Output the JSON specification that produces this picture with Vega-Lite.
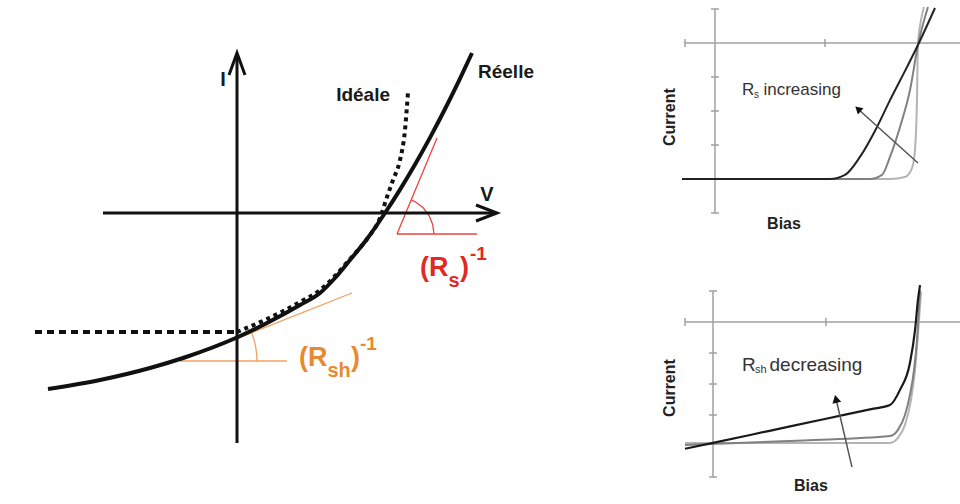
{
  "$schema": "https://vega.github.io/schema/vega-lite/v6.json",
  "padding": 0,
  "background": "white",
  "config": {"view": {"stroke": null}, "text": {"font": "Liberation Sans"}},
  "spacing": 20,
  "hconcat": [
    {
      "width": 640,
      "height": 504,
      "encoding": {
        "x": {"field": "V", "type": "quantitative", "scale": {"domain": [-2.37, 4.03], "nice": false, "zero": false}, "axis": null},
        "y": {"field": "I", "type": "quantitative", "scale": {"domain": [-2.91, 2.13], "nice": false, "zero": false}, "axis": null}
      },
      "layer": [
        {
          "data": {"values": [
            {"s": "oh", "o": 1, "V": -0.57, "I": -1.48}, {"s": "oh", "o": 2, "V": 0.5, "I": -1.48},
            {"s": "os", "o": 1, "V": -0.57, "I": -1.48}, {"s": "os", "o": 2, "V": 1.15, "I": -0.8},
            {"s": "oa", "o": 1, "V": 0.2, "I": -1.48}, {"s": "oa", "o": 2, "V": 0.197, "I": -1.413}, {"s": "oa", "o": 3, "V": 0.188, "I": -1.346}, {"s": "oa", "o": 4, "V": 0.174, "I": -1.281}, {"s": "oa", "o": 5, "V": 0.146, "I": -1.197}
          ]},
          "mark": {"type": "line", "color": "#f0a062", "strokeWidth": 1.3},
          "encoding": {"detail": {"field": "s"}, "order": {"field": "o"}}
        },
        {
          "data": {"values": [
            {"s": "rh", "o": 1, "V": 1.6, "I": -0.21}, {"s": "rh", "o": 2, "V": 2.4, "I": -0.21},
            {"s": "rs", "o": 1, "V": 1.6, "I": -0.21}, {"s": "rs", "o": 2, "V": 2.0, "I": 0.75},
            {"s": "ra", "o": 1, "V": 1.97, "I": -0.21}, {"s": "ra", "o": 2, "V": 1.957, "I": -0.114}, {"s": "ra", "o": 3, "V": 1.92, "I": -0.025}, {"s": "ra", "o": 4, "V": 1.862, "I": 0.052}, {"s": "ra", "o": 5, "V": 1.785, "I": 0.11}, {"s": "ra", "o": 6, "V": 1.742, "I": 0.132}
          ]},
          "mark": {"type": "line", "color": "#e8453c", "strokeWidth": 1.3},
          "encoding": {"detail": {"field": "s"}, "order": {"field": "o"}}
        },
        {
          "data": {"values": [
            {"s": "ih", "o": 1, "V": -2.02, "I": -1.19}, {"s": "ih", "o": 2, "V": 0.0, "I": -1.19}
          ]},
          "mark": {"type": "line", "color": "#111111", "strokeWidth": 4, "strokeDash": [7, 5]},
          "encoding": {"detail": {"field": "s"}, "order": {"field": "o"}}
        },
        {
          "data": {"values": [
            {"s": "ic", "o": 1, "V": 0.0, "I": -1.19}, {"s": "ic", "o": 2, "V": 0.3, "I": -1.06}, {"s": "ic", "o": 3, "V": 0.63, "I": -0.89}, {"s": "ic", "o": 4, "V": 0.83, "I": -0.77}, {"s": "ic", "o": 5, "V": 0.98, "I": -0.63}, {"s": "ic", "o": 6, "V": 1.13, "I": -0.46}, {"s": "ic", "o": 7, "V": 1.3, "I": -0.26}, {"s": "ic", "o": 8, "V": 1.43, "I": -0.05}, {"s": "ic", "o": 9, "V": 1.5, "I": 0.16}, {"s": "ic", "o": 10, "V": 1.56, "I": 0.33}, {"s": "ic", "o": 11, "V": 1.63, "I": 0.53}, {"s": "ic", "o": 12, "V": 1.68, "I": 0.83}, {"s": "ic", "o": 13, "V": 1.71, "I": 1.21}
          ]},
          "mark": {"type": "line", "color": "#111111", "strokeWidth": 4, "strokeDash": [4, 4], "interpolate": "monotone"},
          "encoding": {"detail": {"field": "s"}, "order": {"field": "o"}}
        },
        {
          "data": {"values": [
            {"s": "v", "o": 1, "V": 0, "I": -2.3}, {"s": "v", "o": 2, "V": 0, "I": 1.58},
            {"s": "h", "o": 1, "V": -1.34, "I": 0}, {"s": "h", "o": 2, "V": 2.58, "I": 0},
            {"s": "va", "o": 1, "V": -0.08, "I": 1.38}, {"s": "va", "o": 2, "V": 0, "I": 1.6}, {"s": "va", "o": 3, "V": 0.08, "I": 1.38},
            {"s": "ha", "o": 1, "V": 2.39, "I": 0.08}, {"s": "ha", "o": 2, "V": 2.6, "I": 0}, {"s": "ha", "o": 3, "V": 2.39, "I": -0.08}
          ]},
          "mark": {"type": "line", "color": "#111111", "strokeWidth": 3},
          "encoding": {"detail": {"field": "s"}, "order": {"field": "o"}}
        },
        {
          "data": {"values": [
            {"s": "r", "o": 1, "V": -1.89, "I": -1.76}, {"s": "r", "o": 2, "V": -1.37, "I": -1.67}, {"s": "r", "o": 3, "V": -0.87, "I": -1.55}, {"s": "r", "o": 4, "V": -0.54, "I": -1.45}, {"s": "r", "o": 5, "V": 0.01, "I": -1.24}, {"s": "r", "o": 6, "V": 0.3, "I": -1.1}, {"s": "r", "o": 7, "V": 0.63, "I": -0.92}, {"s": "r", "o": 8, "V": 0.83, "I": -0.8}, {"s": "r", "o": 9, "V": 0.98, "I": -0.65}, {"s": "r", "o": 10, "V": 1.13, "I": -0.47}, {"s": "r", "o": 11, "V": 1.3, "I": -0.26}, {"s": "r", "o": 12, "V": 1.48, "I": 0.0}, {"s": "r", "o": 13, "V": 1.63, "I": 0.234}, {"s": "r", "o": 14, "V": 1.78, "I": 0.485}, {"s": "r", "o": 15, "V": 1.93, "I": 0.754}, {"s": "r", "o": 16, "V": 2.08, "I": 1.04}, {"s": "r", "o": 17, "V": 2.23, "I": 1.344}, {"s": "r", "o": 18, "V": 2.35, "I": 1.6}
          ]},
          "mark": {"type": "line", "color": "#111111", "strokeWidth": 4, "interpolate": "monotone"},
          "encoding": {"detail": {"field": "s"}, "order": {"field": "o"}}
        },
        {
          "data": {"values": [
            {"t": "I", "V": -0.14, "I": 1.33},
            {"t": "V", "V": 2.5, "I": 0.18}
          ]},
          "mark": {"type": "text", "fontSize": 20, "fontWeight": "bold", "color": "#1a1a1a", "align": "center", "baseline": "middle"},
          "encoding": {"text": {"field": "t"}}
        },
        {
          "data": {"values": [{"t": "Idéale", "V": 1.53, "I": 1.18}]},
          "mark": {"type": "text", "fontSize": 19, "fontWeight": "bold", "color": "#1a1a1a", "align": "right", "baseline": "middle"},
          "encoding": {"text": {"field": "t"}}
        },
        {
          "data": {"values": [{"t": "Réelle", "V": 2.41, "I": 1.41}]},
          "mark": {"type": "text", "fontSize": 19, "fontWeight": "bold", "color": "#1a1a1a", "align": "left", "baseline": "middle"},
          "encoding": {"text": {"field": "t"}}
        },
        {
          "data": {"values": [{"t": "(R", "V": 1.83, "I": -0.63}, {"t": ")", "V": 2.23, "I": -0.63}]},
          "mark": {"type": "text", "fontSize": 27, "fontWeight": "bold", "color": "#e02a24", "align": "left", "baseline": "alphabetic"},
          "encoding": {"text": {"field": "t"}}
        },
        {
          "data": {"values": [{"t": "s", "V": 2.115, "I": -0.74}]},
          "mark": {"type": "text", "fontSize": 20, "fontWeight": "bold", "color": "#e02a24", "align": "left", "baseline": "alphabetic"},
          "encoding": {"text": {"field": "t"}}
        },
        {
          "data": {"values": [{"t": "-1", "V": 2.33, "I": -0.47}]},
          "mark": {"type": "text", "fontSize": 19, "fontWeight": "bold", "color": "#e02a24", "align": "left", "baseline": "alphabetic"},
          "encoding": {"text": {"field": "t"}}
        },
        {
          "data": {"values": [{"t": "(R", "V": 0.62, "I": -1.53}, {"t": ")", "V": 1.14, "I": -1.53}]},
          "mark": {"type": "text", "fontSize": 27, "fontWeight": "bold", "color": "#e8892f", "align": "left", "baseline": "alphabetic"},
          "encoding": {"text": {"field": "t"}}
        },
        {
          "data": {"values": [{"t": "sh", "V": 0.905, "I": -1.64}]},
          "mark": {"type": "text", "fontSize": 20, "fontWeight": "bold", "color": "#e8892f", "align": "left", "baseline": "alphabetic"},
          "encoding": {"text": {"field": "t"}}
        },
        {
          "data": {"values": [{"t": "-1", "V": 1.23, "I": -1.37}]},
          "mark": {"type": "text", "fontSize": 19, "fontWeight": "bold", "color": "#e8892f", "align": "left", "baseline": "alphabetic"},
          "encoding": {"text": {"field": "t"}}
        }
      ]
    },
    {
      "spacing": 20,
      "vconcat": [
        {
          "width": 300,
          "height": 245,
          "encoding": {
            "x": {"field": "bias", "type": "quantitative", "scale": {"domain": [-0.5, 2.2273], "nice": false, "zero": false}, "axis": null},
            "y": {"field": "current", "type": "quantitative", "scale": {"domain": [-5.9412, 1.2647], "nice": false, "zero": false}, "axis": null}
          },
          "layer": [
            {
              "data": {"values": [
                {"s": "v", "o": 1, "bias": 0, "current": 1.0}, {"s": "v", "o": 2, "bias": 0, "current": -5.0},
                {"s": "h", "o": 1, "bias": -0.273, "current": 0}, {"s": "h", "o": 2, "bias": 2.2273, "current": 0},
                {"s": "t1", "o": 1, "bias": -0.036, "current": 1}, {"s": "t1", "o": 2, "bias": 0.036, "current": 1},
                {"s": "t2", "o": 1, "bias": -0.036, "current": -1}, {"s": "t2", "o": 2, "bias": 0.036, "current": -1},
                {"s": "t3", "o": 1, "bias": -0.036, "current": -2}, {"s": "t3", "o": 2, "bias": 0.036, "current": -2},
                {"s": "t4", "o": 1, "bias": -0.036, "current": -3}, {"s": "t4", "o": 2, "bias": 0.036, "current": -3},
                {"s": "t5", "o": 1, "bias": -0.036, "current": -5}, {"s": "t5", "o": 2, "bias": 0.036, "current": -5},
                {"s": "t6", "o": 1, "bias": -0.273, "current": 0.12}, {"s": "t6", "o": 2, "bias": -0.273, "current": -0.12},
                {"s": "t7", "o": 1, "bias": 1.0, "current": 0.12}, {"s": "t7", "o": 2, "bias": 1.0, "current": -0.12}
              ]},
              "mark": {"type": "line", "color": "#a0a0a0", "strokeWidth": 1.5},
              "encoding": {"detail": {"field": "s"}, "order": {"field": "o"}}
            },
            {
              "data": {"values": [
                {"o": 1, "bias": -0.3, "current": -4.0}, {"o": 2, "bias": 1.591, "current": -4.0}, {"o": 3, "bias": 1.727, "current": -3.94}, {"o": 4, "bias": 1.791, "current": -3.68}, {"o": 5, "bias": 1.818, "current": -3.15}, {"o": 6, "bias": 1.836, "current": -1.68}, {"o": 7, "bias": 1.845, "current": -0.06}, {"o": 8, "bias": 1.873, "current": 0.68}, {"o": 9, "bias": 1.9, "current": 1.06}
              ]},
              "mark": {"type": "line", "color": "#b4b4b4", "strokeWidth": 2, "interpolate": "monotone"},
              "encoding": {"order": {"field": "o"}}
            },
            {
              "data": {"values": [
                {"o": 1, "bias": -0.3, "current": -4.0}, {"o": 2, "bias": 1.409, "current": -4.0}, {"o": 3, "bias": 1.518, "current": -3.88}, {"o": 4, "bias": 1.591, "current": -3.35}, {"o": 5, "bias": 1.682, "current": -2.47}, {"o": 6, "bias": 1.773, "current": -1.38}, {"o": 7, "bias": 1.845, "current": -0.06}, {"o": 8, "bias": 1.936, "current": 1.06}
              ]},
              "mark": {"type": "line", "color": "#808080", "strokeWidth": 2, "interpolate": "monotone"},
              "encoding": {"order": {"field": "o"}}
            },
            {
              "data": {"values": [
                {"o": 1, "bias": -0.3, "current": -4.0}, {"o": 2, "bias": 1.045, "current": -4.0}, {"o": 3, "bias": 1.182, "current": -3.88}, {"o": 4, "bias": 1.318, "current": -3.35}, {"o": 5, "bias": 1.473, "current": -2.47}, {"o": 6, "bias": 1.591, "current": -1.68}, {"o": 7, "bias": 1.745, "current": -0.71}, {"o": 8, "bias": 1.845, "current": -0.06}, {"o": 9, "bias": 2.0, "current": 1.03}
              ]},
              "mark": {"type": "line", "color": "#222222", "strokeWidth": 2, "interpolate": "monotone"},
              "encoding": {"order": {"field": "o"}}
            },
            {
              "data": {"values": [
                {"o": 1, "bias": 1.845, "current": -3.53}, {"o": 2, "bias": 1.31, "current": -1.97}
              ]},
              "mark": {"type": "line", "color": "#555555", "strokeWidth": 1.5},
              "encoding": {"order": {"field": "o"}}
            },
            {
              "data": {"values": [{"bias": 1.3, "current": -1.94}]},
              "mark": {"type": "point", "shape": "triangle-up", "filled": true, "size": 70, "angle": 312, "color": "#111111", "opacity": 1}
            },
            {
              "data": {"values": [{"t": "R", "bias": 0.245, "current": -1.38}, {"t": "increasing", "bias": 0.44, "current": -1.38}]},
              "mark": {"type": "text", "fontSize": 17, "color": "#333333", "align": "left", "baseline": "middle"},
              "encoding": {"text": {"field": "t"}}
            },
            {
              "data": {"values": [{"t": "s", "bias": 0.355, "current": -1.53}]},
              "mark": {"type": "text", "fontSize": 10, "color": "#333333", "align": "left", "baseline": "middle"},
              "encoding": {"text": {"field": "t"}}
            },
            {
              "data": {"values": [{"t": "Current", "bias": -0.409, "current": -2.18}]},
              "mark": {"type": "text", "fontSize": 16, "fontWeight": "bold", "angle": 270, "color": "#222222", "align": "center", "baseline": "middle"},
              "encoding": {"text": {"field": "t"}}
            },
            {
              "data": {"values": [{"t": "Bias", "bias": 0.627, "current": -5.32}]},
              "mark": {"type": "text", "fontSize": 16, "fontWeight": "bold", "color": "#222222", "align": "center", "baseline": "middle"},
              "encoding": {"text": {"field": "t"}}
            }
          ]
        },
        {
          "width": 300,
          "height": 239,
          "encoding": {
            "x": {"field": "bias", "type": "quantitative", "scale": {"domain": [-0.469, 2.186], "nice": false, "zero": false}, "axis": null},
            "y": {"field": "current", "type": "quantitative", "scale": {"domain": [-5.871, 1.839], "nice": false, "zero": false}, "axis": null}
          },
          "layer": [
            {
              "data": {"values": [
                {"s": "v", "o": 1, "bias": 0, "current": 1.0}, {"s": "v", "o": 2, "bias": 0, "current": -5.0},
                {"s": "h", "o": 1, "bias": -0.248, "current": 0}, {"s": "h", "o": 2, "bias": 2.186, "current": 0},
                {"s": "t1", "o": 1, "bias": -0.035, "current": 1}, {"s": "t1", "o": 2, "bias": 0.035, "current": 1},
                {"s": "t2", "o": 1, "bias": -0.035, "current": -1}, {"s": "t2", "o": 2, "bias": 0.035, "current": -1},
                {"s": "t3", "o": 1, "bias": -0.035, "current": -2}, {"s": "t3", "o": 2, "bias": 0.035, "current": -2},
                {"s": "t4", "o": 1, "bias": -0.035, "current": -3}, {"s": "t4", "o": 2, "bias": 0.035, "current": -3},
                {"s": "t5", "o": 1, "bias": -0.035, "current": -5}, {"s": "t5", "o": 2, "bias": 0.035, "current": -5},
                {"s": "t6", "o": 1, "bias": -0.248, "current": 0.13}, {"s": "t6", "o": 2, "bias": -0.248, "current": -0.13},
                {"s": "t7", "o": 1, "bias": 1.0, "current": 0.13}, {"s": "t7", "o": 2, "bias": 1.0, "current": -0.13}
              ]},
              "mark": {"type": "line", "color": "#a0a0a0", "strokeWidth": 1.5},
              "encoding": {"detail": {"field": "s"}, "order": {"field": "o"}}
            },
            {
              "data": {"values": [
                {"o": 1, "bias": -0.248, "current": -3.9}, {"o": 2, "bias": 1.566, "current": -3.9}, {"o": 3, "bias": 1.637, "current": -3.74}, {"o": 4, "bias": 1.699, "current": -3.32}, {"o": 5, "bias": 1.752, "current": -2.52}, {"o": 6, "bias": 1.788, "current": -1.55}, {"o": 7, "bias": 1.814, "current": -0.42}, {"o": 8, "bias": 1.841, "current": 0.97}
              ]},
              "mark": {"type": "line", "color": "#b4b4b4", "strokeWidth": 2, "interpolate": "monotone"},
              "encoding": {"order": {"field": "o"}}
            },
            {
              "data": {"values": [
                {"o": 1, "bias": -0.248, "current": -3.97}, {"o": 2, "bias": 0.8, "current": -3.82}, {"o": 3, "bias": 1.566, "current": -3.68}, {"o": 4, "bias": 1.637, "current": -3.48}, {"o": 5, "bias": 1.699, "current": -3.0}, {"o": 6, "bias": 1.743, "current": -2.35}, {"o": 7, "bias": 1.779, "current": -1.55}, {"o": 8, "bias": 1.805, "current": -0.58}, {"o": 9, "bias": 1.832, "current": 1.03}
              ]},
              "mark": {"type": "line", "color": "#808080", "strokeWidth": 2, "interpolate": "monotone"},
              "encoding": {"order": {"field": "o"}}
            },
            {
              "data": {"values": [
                {"o": 1, "bias": -0.248, "current": -4.09}, {"o": 2, "bias": 0.0, "current": -3.9}, {"o": 3, "bias": 0.5, "current": -3.51}, {"o": 4, "bias": 1.0, "current": -3.12}, {"o": 5, "bias": 1.4, "current": -2.81}, {"o": 6, "bias": 1.566, "current": -2.68}, {"o": 7, "bias": 1.655, "current": -2.19}, {"o": 8, "bias": 1.743, "current": -1.32}, {"o": 9, "bias": 1.788, "current": -0.26}, {"o": 10, "bias": 1.814, "current": 0.71}, {"o": 11, "bias": 1.832, "current": 1.19}
              ]},
              "mark": {"type": "line", "color": "#1a1a1a", "strokeWidth": 2.2, "interpolate": "monotone"},
              "encoding": {"order": {"field": "o"}}
            },
            {
              "data": {"values": [
                {"o": 1, "bias": 1.23, "current": -4.68}, {"o": 2, "bias": 1.09, "current": -2.5}
              ]},
              "mark": {"type": "line", "color": "#555555", "strokeWidth": 1.5},
              "encoding": {"order": {"field": "o"}}
            },
            {
              "data": {"values": [{"bias": 1.088, "current": -2.48}]},
              "mark": {"type": "point", "shape": "triangle-up", "filled": true, "size": 80, "angle": 347, "color": "#111111", "opacity": 1}
            },
            {
              "data": {"values": [{"t": "R", "bias": 0.257, "current": -1.387}, {"t": "decreasing", "bias": 0.5, "current": -1.387}]},
              "mark": {"type": "text", "fontSize": 19, "color": "#333333", "align": "left", "baseline": "middle"},
              "encoding": {"text": {"field": "t"}}
            },
            {
              "data": {"values": [{"t": "sh", "bias": 0.372, "current": -1.55}]},
              "mark": {"type": "text", "fontSize": 11, "color": "#333333", "align": "left", "baseline": "middle"},
              "encoding": {"text": {"field": "t"}}
            },
            {
              "data": {"values": [{"t": "Current", "bias": -0.381, "current": -2.13}]},
              "mark": {"type": "text", "fontSize": 16, "fontWeight": "bold", "angle": 270, "color": "#222222", "align": "center", "baseline": "middle"},
              "encoding": {"text": {"field": "t"}}
            },
            {
              "data": {"values": [{"t": "Bias", "bias": 0.867, "current": -5.29}]},
              "mark": {"type": "text", "fontSize": 16, "fontWeight": "bold", "color": "#222222", "align": "center", "baseline": "middle"},
              "encoding": {"text": {"field": "t"}}
            }
          ]
        }
      ]
    }
  ]
}
